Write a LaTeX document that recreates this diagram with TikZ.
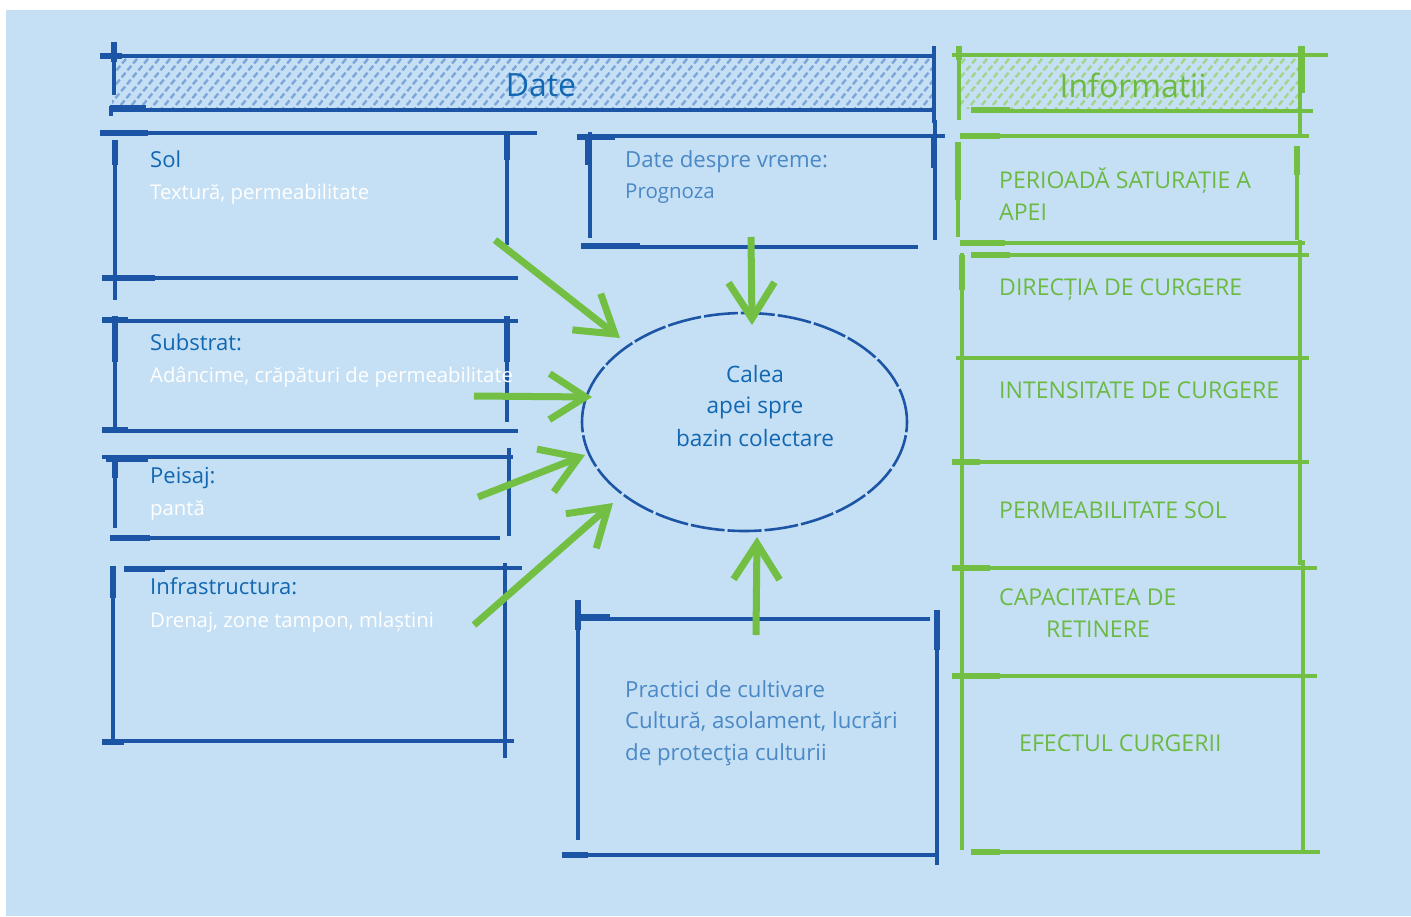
\documentclass[tikz,border=0pt]{standalone}
\usepackage{fontspec}
\setmainfont{Open Sans}
\usetikzlibrary{arrows.meta,shapes.geometric}
\definecolor{bg}{HTML}{C5E0F4}
\definecolor{ink}{HTML}{1D55A6}
\definecolor{titleblue}{HTML}{1167B1}
\definecolor{softblue}{HTML}{4A88C6}
\definecolor{leaf}{HTML}{72BF44}
\definecolor{leaftext}{HTML}{6CB944}
\definecolor{hatchblue}{HTML}{7EA6DA}
\definecolor{hatchgreen}{HTML}{A2D58A}
\tikzset{
  bline/.style={draw=ink, line width=3.5pt},
  bblob/.style={draw=ink, line width=6.5pt},
  gline/.style={draw=leaf, line width=3.5pt},
  gblob/.style={draw=leaf, line width=6.5pt},
  ttl/.style={anchor=base west, inner sep=0, font=\fontsize{22}{26}\selectfont, text=titleblue},
  subt/.style={anchor=base west, inner sep=0, font=\fontsize{20.3}{24}\selectfont, text=white},
  soft/.style={anchor=base west, inner sep=0, font=\fontsize{22.2}{26}\selectfont, text=softblue},
  info/.style={anchor=base west, inner sep=0, font=\fontsize{23.1}{26}\selectfont, text=leaftext},
  poolt/.style={anchor=base, inner sep=0, font=\fontsize{22.6}{26}\selectfont, text=titleblue},
  head/.style={inner sep=0, font=\fontsize{32}{36}\selectfont},
  garrow/.style={draw=leaf, line width=7pt, -{Straight Barb[length=36pt,width=46pt]}},
  hatchb/.style={hatchblue, line width=2.4pt, dash pattern=on 6pt off 3pt},
  hatchg/.style={hatchgreen, line width=2.4pt, dash pattern=on 6pt off 3pt},
}
\begin{document}
\begin{tikzpicture}[x=1pt,y=-1pt]
\useasboundingbox (0,0) rectangle (1411,916);
\fill[white] (0,0) rectangle (1411,916);
\fill[bg] (6,10) rectangle (1411,916);

% ---- header "Date" with hatching
\begin{scope}
  \clip (112,58) rectangle (932,108);
  \foreach \i in {0,...,80} \draw[hatchb] ({60+\i*11},112) -- ++(48,-58);
\end{scope}
\draw[bline] (100,56) -- (936,56);
\draw[bline] (110,110) -- (936,110);
\draw[bline] (114,43) -- (114,95);
\draw[bline] (111,106) -- (111,116);
\draw[bline] (934,46) -- (934,123);
\draw[bblob] (100,56) -- (122,56);
\draw[bblob] (114,42) -- (114,62);
\draw[bblob] (110,108) -- (146,108);
\node[head, text=titleblue] (dateHead) at (541,85) {Date};

% ---- header "Informatii" with hatching
\begin{scope}
  \clip (961,58) rectangle (1298,108);
  \foreach \i in {0,...,36} \draw[hatchg] ({910+\i*11},112) -- ++(48,-58);
\end{scope}
\draw[gline] (952,55) -- (1328,55);
\draw[gline] (971,111) -- (1313,111);
\draw[gline] (959,46) -- (959,120);
\draw[gline] (1300,46) -- (1300,136);
\draw[gblob] (1302,46) -- (1302,93);
\draw[gblob] (959,46) -- (959,60);
\draw[gblob] (971,110) -- (1010,110);
\node[head, text=leaftext] (infoHead) at (1133,85) {Informatii};

% ---- information column
\draw[gline] (960,136) -- (1309,136);
\draw[gline] (958,142) -- (958,237);
\draw[gline] (1297,146) -- (1297,240);
\draw[gline] (960,243) -- (1305,243);
\draw[gline] (971,255) -- (1309,255);
\draw[gline] (962,253) -- (962,850);
\draw[gline] (1300,240) -- (1300,565);
\draw[gline] (1303,560) -- (1303,852);
\draw[gline] (956,358) -- (1309,358);
\draw[gline] (952,462) -- (1309,462);
\draw[gline] (952,568) -- (1317,568);
\draw[gline] (952,676) -- (1317,676);
\draw[gline] (971,852) -- (1320,852);
\draw[gblob] (958,142) -- (958,200);
\draw[gblob] (962,255) -- (962,290);
\draw[gblob] (960,136) -- (1000,136);
\draw[gblob] (960,243) -- (1005,243);
\draw[gblob] (971,255) -- (1010,255);
\draw[gblob] (952,462) -- (980,462);
\draw[gblob] (952,568) -- (990,568);
\draw[gblob] (952,676) -- (1000,676);
\draw[gblob] (971,852) -- (1000,852);
\draw[gblob] (1297,146) -- (1297,175);

\node[info] (i1a) at (999,188) {PERIOADĂ SATURAȚIE A};
\node[info] (i1b) at (999,220) {APEI};
\node[info] (i2) at (999,295) {DIRECȚIA DE CURGERE};
\node[info] (i3) at (999,398) {INTENSITATE DE CURGERE};
\node[info] (i4) at (999,518) {PERMEABILITATE SOL};
\node[info] (i5a) at (999,605) {CAPACITATEA DE};
\node[info] (i5b) at (1046,637) {RETINERE};
\node[info] (i6) at (1019,751) {EFECTUL CURGERII};

% ---- data boxes, left
\draw[bline] (100,133) -- (537,133);
\draw[bline] (115,140) -- (115,300);
\draw[bline] (507,133) -- (507,245);
\draw[bline] (102,278) -- (518,278);
\draw[bblob] (100,133) -- (148,133);
\draw[bblob] (115,140) -- (115,165);
\draw[bblob] (507,133) -- (507,160);
\draw[bblob] (102,278) -- (155,278);
\node[ttl] (sol) at (150,167) {Sol};
\node[subt] (solT) at (150,199) {Textură, permeabilitate};

\draw[bline] (102,321) -- (518,321);
\draw[bline] (115,316) -- (115,433);
\draw[bline] (507,316) -- (507,422);
\draw[bline] (102,431) -- (518,431);
\draw[bblob] (102,320) -- (128,320);
\draw[bblob] (115,316) -- (115,362);
\draw[bblob] (507,316) -- (507,362);
\draw[bblob] (102,430) -- (128,430);
\node[ttl] (sub) at (150,350) {Substrat:};
\node[subt] (subT) at (150,382) {Adâncime, crăpături de permeabilitate};

\draw[bline] (102,457) -- (513,457);
\draw[bline] (115,458) -- (115,528);
\draw[bline] (509,448) -- (509,536);
\draw[bline] (110,538) -- (500,538);
\draw[bblob] (106,459) -- (148,459);
\draw[bblob] (115,458) -- (115,478);
\draw[bblob] (110,538) -- (150,538);
\node[ttl] (pei) at (150,483) {Peisaj:};
\node[subt] (peiT) at (150,515) {pantă};

\draw[bline] (124,568) -- (522,568);
\draw[bline] (113,566) -- (113,745);
\draw[bline] (505,563) -- (505,758);
\draw[bline] (102,741) -- (514,741);
\draw[bblob] (124,569) -- (165,569);
\draw[bblob] (113,566) -- (113,598);
\draw[bblob] (102,742) -- (124,742);
\node[ttl] (inf) at (150,594) {Infrastructura:};
\node[subt] (infT) at (150,627) {Drenaj, zone tampon, mlaștini};

% ---- weather box
\draw[bline] (577,136) -- (945,136);
\draw[bline] (590,132) -- (590,238);
\draw[bline] (935,120) -- (935,240);
\draw[bline] (581,247) -- (918,247);
\draw[bblob] (577,137) -- (615,137);
\draw[bblob] (588,136) -- (588,165);
\draw[bblob] (934,136) -- (934,168);
\draw[bblob] (581,246) -- (640,246);
\node[soft] (vreme) at (625,167) {Date despre vreme:};
\node[soft, font=\fontsize{20.5}{24}\selectfont] (vremeT) at (625,198) {Prognoza};

% ---- farming practice box
\draw[bline] (575,619) -- (930,619);
\draw[bline] (578,600) -- (578,840);
\draw[bline] (937,610) -- (937,865);
\draw[bline] (562,855) -- (937,855);
\draw[bblob] (578,600) -- (578,630);
\draw[bblob] (578,617) -- (610,617);
\draw[bblob] (937,610) -- (937,650);
\draw[bblob] (562,855) -- (588,855);
\node[soft] (prac1) at (625,697) {Practici de cultivare};
\node[soft] (prac2) at (625,728) {Cultură, asolament, lucrări};
\node[soft] (prac3) at (625,760) {de protecţia culturii};

% ---- central pool
\node[draw=ink, line width=2.6pt, ellipse, minimum width=325pt, minimum height=218pt,
      inner sep=0, dash pattern=on 34pt off 3pt] (pool) at (744.5,422) {};
\node[poolt] (pool1) at (755,382) {Calea};
\node[poolt] (pool2) at (755,413) {apei spre};
\node[poolt] (pool3) at (755,446) {bazin colectare};

% ---- arrows into the pool
\coordinate (a1s) at (495,240); \coordinate (a1e) at (620,338);
\coordinate (a2s) at (474,396); \coordinate (a2e) at (592,397);
\coordinate (a3s) at (478,497); \coordinate (a3e) at (585,455);
\coordinate (a4s) at (474,625); \coordinate (a4e) at (613,503);
\coordinate (a5s) at (751,237); \coordinate (a5e) at (752,325);
\coordinate (a6s) at (756,635); \coordinate (a6e) at (757,537);
\foreach \k in {1,...,6} \draw[garrow] (a\k s) -- (a\k e);
\end{tikzpicture}
\end{document}
